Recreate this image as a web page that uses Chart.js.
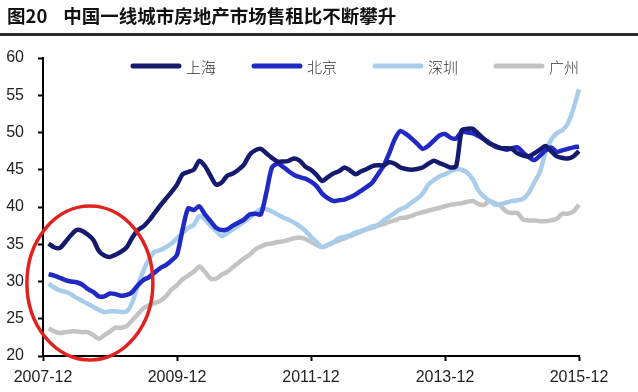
<!DOCTYPE html>
<html>
<head>
<meta charset="utf-8">
<script src="https://cdn.jsdelivr.net/npm/chart.js@4.4.1/dist/chart.umd.min.js"></script>
<style>
  html, body { margin: 0; padding: 0; background: #fff; }
  #wrap { position: relative; width: 638px; height: 392px; overflow: hidden; }
  #title { position: absolute; left: 7px; top: 2px; font: bold 18.5px "Noto Sans CJK SC", sans-serif; color: #111; white-space: nowrap; }
  #title span { margin-left: 16px; }
  #rule { position: absolute; left: 0; top: 33px; width: 638px; height: 3px; background: #2a2a2a; }
  canvas { position: absolute; left: 0; top: 0; }
</style>
</head>
<body>
<div id="wrap">
  <canvas id="chart" width="638" height="392"></canvas>
  <div id="title">图20<span>中国一线城市房地产市场售租比不断攀升</span></div>
  <div id="rule"></div>
</div>
<script>
// monthly, 2007-12 .. 2015-12 (series start 2008-01)
const tickLabels = ['2007-12', '2009-12', '2011-12', '2013-12', '2015-12'];
const cities = ['上海', '北京', '深圳', '广州'];

const shanghai = [null,
  35.1, 34.6, 34.5, 35.3, 36.2, 36.9, 36.8, 36.3, 35.6, 34.1, 33.5, 33.3,
  33.6, 34.0, 34.6, 35.9, 36.9, 37.4, 38.2, 39.2, 40.2, 41.1, 42.0, 43.0,
  44.4, 44.7, 45.0, 46.2, 45.5, 44.2, 43.0, 43.3, 44.2, 44.5, 45.0, 45.7,
  47.0, 47.6, 47.8, 47.2, 46.6, 46.1, 46.1, 46.2, 46.5, 46.2, 45.4, 45.0,
  44.3, 43.5, 44.0, 44.5, 44.8, 45.3, 44.9, 44.4, 44.8, 45.1, 45.5, 45.6,
  45.6, 46.0, 45.8, 45.3, 45.1, 45.0, 45.1, 45.3, 45.8, 46.2, 45.9, 45.6,
  45.3, 45.5, 50.3, 50.5, 50.5, 49.8, 49.1, 48.5, 48.2, 47.9, 47.9, 47.8,
  47.2, 46.9, 46.8, 47.2, 47.7, 48.2, 47.5, 46.8, 46.6, 46.5, 46.8, 47.5];

const beijing = [null,
  31.0, 30.8, 30.5, 30.2, 30.0, 29.9, 29.6, 29.0, 28.6, 28.0, 28.0, 28.4,
  28.3, 28.1, 28.2, 28.6, 29.5, 30.2, 30.6, 31.2, 31.8, 32.2, 32.8, 33.6,
  37.0, 39.8, 39.6, 40.1, 39.0, 38.1, 37.2, 36.9, 37.0, 37.5, 37.9, 38.3,
  39.0, 39.1, 39.0, 41.9, 45.3, 45.8, 45.4, 44.8, 44.3, 44.0, 43.8, 43.4,
  42.8, 41.8, 41.2, 40.8, 40.9, 41.0, 41.3, 41.7, 42.2, 42.7, 43.3, 44.4,
  45.5, 47.2, 49.1, 50.2, 49.8, 49.2, 48.5, 47.8, 48.2, 48.9, 49.6, 49.8,
  49.3, 49.2, 50.1, 50.0, 49.9, 49.5, 49.1, 48.6, 48.1, 47.9, 47.7, 47.9,
  48.0, 47.3, 46.7, 46.3, 46.9, 47.6, 48.0, 47.4, 47.6, 47.8, 48.0, 48.1];

const shenzhen = [null,
  29.7, 29.2, 28.8, 28.6, 28.3, 27.8, 27.4, 27.0, 26.6, 26.2, 25.9, 26.0,
  26.0, 25.9, 26.0, 27.2, 29.5, 31.5, 33.0, 34.0, 34.2, 34.6, 35.1, 35.8,
  36.5, 37.2, 37.6, 38.8, 38.3, 37.5, 36.8, 36.1, 36.5, 37.0, 37.5, 38.0,
  38.6, 39.2, 39.7, 39.7, 39.4, 39.0, 38.6, 38.3, 37.9, 37.4, 36.8, 36.0,
  35.3, 34.6, 34.9, 35.3, 35.8, 36.0, 36.2, 36.6, 36.8, 37.1, 37.4, 37.6,
  38.2, 38.7, 39.2, 39.7, 40.0, 40.6, 41.1, 41.8, 43.0, 43.6, 44.1, 44.4,
  44.8, 45.1, 45.0, 44.6, 43.7, 42.2, 41.4, 40.8, 40.3, 40.4, 40.6, 40.8,
  40.9, 41.1, 41.9, 43.3, 44.7, 47.3, 49.0, 49.9, 50.3, 51.2, 53.2, 55.8];

const guangzhou = [null,
  23.7, 23.3, 23.1, 23.2, 23.3, 23.3, 23.2, 23.2, 22.8, 22.3, 22.8, 23.3,
  23.8, 23.8, 24.0, 24.8, 25.6, 26.4, 26.8, 27.1, 27.4, 28.0, 28.9, 29.5,
  30.3, 30.8, 31.3, 32.0, 31.3, 30.4, 30.4, 30.9, 31.3, 31.9, 32.5, 33.1,
  33.6, 34.3, 34.7, 35.0, 35.1, 35.3, 35.4, 35.6, 35.8, 35.9, 35.7, 35.3,
  34.9, 34.6, 34.9, 35.2, 35.5, 35.8, 36.1, 36.4, 36.7, 37.0, 37.2, 37.5,
  37.7, 38.0, 38.2, 38.5, 38.6, 38.8, 39.1, 39.3, 39.5, 39.7, 39.9, 40.1,
  40.3, 40.4, 40.5, 40.7, 40.8, 40.4, 40.3, 40.8, 40.5, 40.1, 39.4, 39.2,
  39.2, 38.3, 38.2, 38.2, 38.1, 38.1, 38.2, 38.4, 39.1, 39.1, 39.4, 40.3];

const months = [];
for (let y = 2007, m = 12; months.length < shanghai.length; m++) {
  if (m > 12) { m = 1; y++; }
  months.push(y + '-' + String(m).padStart(2, '0'));
}

const colors = ['#141a6e', '#2029c4', '#a8cdeb', '#c3c3c3'];
const isTick = i => tickLabels.includes(months[i]);

// legend drawn inside the plot, right aligned
const insideLegend = {
  id: 'insideLegend',
  afterDraw(chart) {
    const ctx = chart.ctx;
    const area = chart.chartArea;
    const y = 66;
    const lineLen = 50, gap = 5, space = 36;
    ctx.save();
    ctx.font = '300 15px "Noto Sans CJK SC", sans-serif';
    ctx.textBaseline = 'middle';
    let x = area.right;
    const items = chart.data.datasets.slice().reverse();
    items.forEach(ds => {
      const w = ctx.measureText(ds.label).width;
      x -= w;
      ctx.fillStyle = '#333';
      ctx.fillText(ds.label, x, y + 1);
      x -= gap;
      ctx.strokeStyle = ds.borderColor;
      ctx.lineWidth = 5;
      ctx.lineCap = 'round';
      ctx.beginPath();
      ctx.moveTo(x - lineLen + 2, y);
      ctx.lineTo(x - 2, y);
      ctx.stroke();
      x -= lineLen + space;
    });
    ctx.restore();
  }
};

// red circle round 2008
const redRing = {
  id: 'redRing',
  afterDatasetsDraw(chart) {
    const xs = chart.scales.x, ys = chart.scales.y;
    const cx = xs.getPixelForValue(8.4);
    const cy = ys.getPixelForValue(29.8);
    const ctx = chart.ctx;
    ctx.save();
    ctx.strokeStyle = '#e0221f';
    ctx.lineWidth = 3.5;
    ctx.beginPath();
    ctx.ellipse(cx, cy, 63, 77, 0, 0, Math.PI * 2);
    ctx.stroke();
    ctx.restore();
  }
};

const series = [shanghai, beijing, shenzhen, guangzhou];

new Chart(document.getElementById('chart'), {
  type: 'line',
  data: {
    labels: months,
    datasets: series.map((d, i) => ({
      label: cities[i],
      data: d,
      borderColor: colors[i],
      backgroundColor: colors[i],
      borderWidth: 4.5,
      pointRadius: 0,
      tension: 0.25,
      fill: false
    }))
  },
  options: {
    responsive: false,
    devicePixelRatio: 1,
    animation: false,
    layout: { padding: { top: 58, right: 59, left: 0, bottom: 0 } },
    scales: {
      x: {
        offset: false,
        border: { color: '#000', width: 2 },
        grid: {
          drawOnChartArea: false,
          tickLength: 5,
          tickWidth: 2,
          tickColor: ctx => isTick(ctx.index) ? '#000' : 'rgba(0,0,0,0)'
        },
        ticks: {
          autoSkip: false,
          maxRotation: 0,
          padding: 7,
          color: '#222',
          font: { family: '"Liberation Sans", Arial, sans-serif', size: 16 },
          callback: (v, i) => isTick(i) ? months[i] : ''
        },
        afterFit: s => { s.height = 36; }
      },
      y: {
        min: 20,
        max: 60,
        border: { color: '#000', width: 2 },
        grid: { drawOnChartArea: false, tickLength: 5, tickWidth: 2, tickColor: '#000' },
        ticks: {
          stepSize: 5,
          padding: 14,
          color: '#222',
          font: { family: '"Liberation Sans", Arial, sans-serif', size: 16 }
        },
        afterFit: s => { s.width = 43; }
      }
    },
    plugins: {
      legend: { display: false },
      tooltip: { enabled: false }
    }
  },
  plugins: [redRing, insideLegend]
});
</script>
</body>
</html>
